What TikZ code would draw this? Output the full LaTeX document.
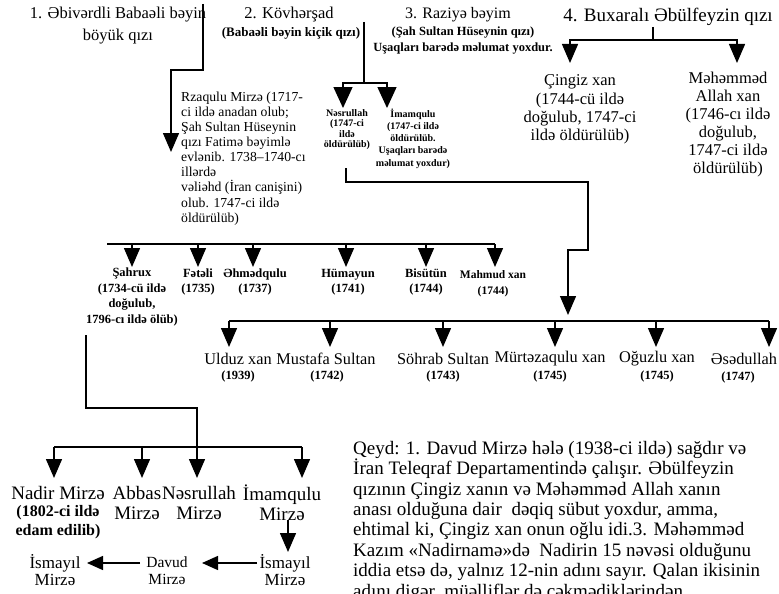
\documentclass[tikz,border=0pt]{standalone}
\usepackage{fontspec}
\setmainfont{Liberation Serif}
\usetikzlibrary{arrows.meta}
\newcommand\fsz[2]{\fontsize{#1}{#2}\selectfont}
\begin{document}
\begin{tikzpicture}[x=1pt,y=-1pt,
  conn/.style={line width=1.4pt},
  arr/.style={conn,-{Triangle[length=19pt,width=16pt]}},
  warr/.style={conn,-{Triangle[length=21pt,width=19pt]}},
  harr/.style={conn,-{Triangle[length=16pt,width=14pt]}},
  lbl/.style={inner sep=0pt,align=center},
  big/.style={lbl,font=\fsz{16.5}{18.3}},
  rowlbl/.style={lbl,font=\bfseries\fsz{12.5}{15.5}},
  tinylbl/.style={lbl,font=\bfseries\fsz{10}{10.3}},
  nm/.style={lbl,font=\fsz{16.3}{17}},
  yr/.style={lbl,font=\bfseries\fsz{12.5}{15}},
  gr/.style={lbl,font=\fsz{19}{20}},
  gg/.style={lbl,font=\fsz{17}{17}},
]
\useasboundingbox (0,0) rectangle (779,594);
\clip (0,0) rectangle (779,594);
\fill[white] (0,0) rectangle (779,594);

% ---------- titles ----------
\node[lbl,font=\fsz{16.5}{22}] (t1) at (118,26) {1. Əbivərdli Babaəli bəyin\\böyük qızı};
\node[lbl,font=\fsz{16.5}{18}] (t2) at (289,15) {2. Kövhərşad};
\node[lbl,font=\bfseries\fsz{13}{15}] (t2s) at (291,33) {(Babaəli bəyin kiçik qızı)};
\node[lbl,font=\fsz{16}{18}] (t3) at (458,15) {3. Raziyə bəyim};
\node[lbl,font=\bfseries\fsz{12.5}{16}] (t3s) at (463,41) {(Şah Sultan Hüseynin qızı)\\Uşaqları barədə məlumat yoxdur.};
\node[lbl,font=\fsz{19}{21}] (t4) at (668,17) {4. Buxaralı Əbülfeyzin qızı};

% ---------- second generation ----------
\node[lbl,align=left,anchor=west,font=\fsz{13.7}{15.1}] (rza) at (181,158.5)
  {Rzaqulu Mirzə (1717-\\ci ildə anadan olub;\\Şah Sultan Hüseynin\\qızı Fatimə bəyimlə\\evlənib. 1738--1740-cı\\illərdə\\vəliəhd (İran canişini)\\olub. 1747-ci ildə\\öldürülüb)};
\node[tinylbl] (nes) at (347,129.5) {Nəsrullah\\(1747-ci\\ildə\\öldürülüb)};
\node[lbl,font=\bfseries\fsz{10}{12.2}] (ima) at (413,138.5) {İmamqulu\\(1747-ci ildə\\öldürülüb.\\Uşaqları barədə\\məlumat yoxdur)};
\node[big] (cingiz) at (580,109.5) {Çingiz xan\\(1744-cü ildə\\doğulub, 1747-ci\\ildə öldürülüb)};
\node[lbl,font=\fsz{16.5}{18}] (meh) at (728,125) {Məhəmməd\\Allah xan\\(1746-cı ildə\\doğulub,\\1747-ci ildə\\öldürülüb)};

% ---------- Rzaqulu's sons ----------
\node[rowlbl] (sahrux) at (132,297) {Şahrux\\(1734-cü ildə\\doğulub,\\1796-cı ildə ölüb)};
\node[rowlbl] (fetali) at (198,282) {Fətəli\\(1735)};
\node[rowlbl] (ehmed) at (255,282) {Əhmədqulu\\(1737)};
\node[rowlbl] (humayun) at (348,282) {Hümayun\\(1741)};
\node[rowlbl] (bisutun) at (426,282) {Bisütün\\(1744)};
\node[lbl,font=\bfseries\fsz{11.5}{16}] (mahmud) at (493,284) {Mahmud xan\\(1744)};

% ---------- Nəsrullah's sons ----------
\node[nm] (ulduz) at (238,359) {Ulduz xan};
\node[yr] (ulduzy) at (238,376) {(1939)};
\node[nm] (mustafa) at (326,359) {Mustafa Sultan};
\node[yr] (mustafay) at (327,376) {(1742)};
\node[nm] (sohrab) at (443,359) {Söhrab Sultan};
\node[yr] (sohraby) at (443,376) {(1743)};
\node[nm] (murteza) at (550,359) {Mürtəzaqulu xan};
\node[yr] (murtezay) at (550,376) {(1745)};
\node[nm] (oguzlu) at (657,359) {Oğuzlu xan};
\node[yr] (oguzluy) at (657,376) {(1745)};
\node[nm] (esed) at (744,359) {Əsədullah};
\node[yr] (esedy) at (738,377) {(1747)};

% ---------- Şahrux's sons ----------
\node[gr] (nadir) at (58,493) {Nadir Mirzə};
\node[lbl,font=\bfseries\fsz{16}{19}] (nadirs) at (58,522.5) {(1802-ci ildə\\edam edilib)};
\node[gr] (abbas) at (137,503) {Abbas\\Mirzə};
\node[gr] (nesm) at (199,503) {Nəsrullah\\Mirzə};
\node[gr] (imam) at (282,503) {İmamqulu\\Mirzə};
\node[gg] (ism2) at (285,570.5) {İsmayıl\\Mirzə};
\node[lbl,font=\fsz{15.5}{17}] (davud) at (167,570.5) {Davud\\Mirzə};
\node[gg] (ism1) at (55,570.5) {İsmayıl\\Mirzə};

% ---------- note ----------
\node[inner sep=0pt,align=left,anchor=north west,font=\fsz{19}{20.4}] (note) at (353,441)
  {Qeyd: 1. Davud Mirzə hələ (1938-ci ildə) sağdır və\\
   İran Teleqraf Departamentində çalışır. Əbülfeyzin\\
   qızının Çingiz xanın və Məhəmməd Allah xanın\\
   anası olduğuna dair\ \ dəqiq sübut yoxdur, amma,\\
   ehtimal ki, Çingiz xan onun oğlu idi.3. Məhəmməd\\
   Kazım «Nadirnamə»də\ \ Nadirin 15 nəvəsi olduğunu\\
   iddia etsə də, yalnız 12-nin adını sayır. Qalan ikisinin\\
   adını digər\ \ müəlliflər də çəkmədiklərindən};

% ---------- connectors ----------
\coordinate (p1) at (203,4);
\coordinate (p2) at (171,70);
\coordinate (rzaTip) at (171,152);
\draw[arr] (p1) |- (p2) -- (rzaTip);

\coordinate (k1) at (364,22);
\coordinate (k2) at (364,83);
\coordinate (nesTip) at (343,108);
\coordinate (imaTip) at (387,108);
\draw[conn] (k1) -- (k2);
\draw[warr] (k2) -| (nesTip);
\draw[warr] (k2) -| (imaTip);

\coordinate (b1) at (653,27);
\coordinate (b2) at (653,40);
\coordinate (cinTip) at (570,63);
\coordinate (mehTip) at (737,63);
\draw[conn] (b1) -- (b2);
\draw[arr] (b2) -| (cinTip);
\draw[arr] (b2) -| (mehTip);

% Rzaqulu row
\coordinate (r1L) at (107,244);
\coordinate (r1R) at (495,244);
\draw[conn] (r1L) -- (r1R);
\foreach \n/\x in {sahrux/132,fetali/198,ehmed/253,humayun/346,bisutun/426,mahmud/495}{
  \coordinate (\n-top) at (\x,244);
  \coordinate (\n-tip) at (\x,267);
  \draw[arr] (\n-top) -- (\n-tip);
}

% from Nəsrullah
\coordinate (n1) at (346,168);
\coordinate (n2) at (588,182);
\coordinate (n3) at (568,250);
\coordinate (r2Tip) at (568,315);
\draw[arr] (n1) |- (n2) |- (n3) -- (r2Tip);

% Nəsrullah row
\coordinate (r2L) at (229,321);
\coordinate (r2R) at (769,321);
\draw[conn] (r2L) -- (r2R);
\foreach \n/\x in {ulduz/229,mustafa/330,sohrab/443,murteza/555,oguzlu/656,esed/769}{
  \coordinate (\n-top) at (\x,321);
  \coordinate (\n-tip) at (\x,347);
  \draw[arr] (\n-top) -- (\n-tip);
}

% from Şahrux
\coordinate (s1) at (86,335);
\coordinate (s2) at (197,408);
\coordinate (nesmTip) at (197,478);
\draw[arr] (s1) |- (s2) -- (nesmTip);
\coordinate (r3L) at (54,447);
\coordinate (r3R) at (302,447);
\draw[conn] (r3L) -- (r3R);
\foreach \n/\x in {nadir/54,abbas/142,imam/302}{
  \coordinate (\n-top) at (\x,447);
  \coordinate (\n-tip) at (\x,478);
  \draw[arr] (\n-top) -- (\n-tip);
}

% İmamqulu -> İsmayıl -> Davud -> İsmayıl
\coordinate (i1) at (288,520);
\coordinate (i1Tip) at (288,552);
\draw[arr] (i1) -- (i1Tip);
\coordinate (d1) at (257,563);
\coordinate (d1Tip) at (202,563);
\draw[harr] (d1) -- (d1Tip);
\coordinate (e1) at (140,563);
\coordinate (e1Tip) at (87,563);
\draw[harr] (e1) -- (e1Tip);
\end{tikzpicture}
\end{document}
